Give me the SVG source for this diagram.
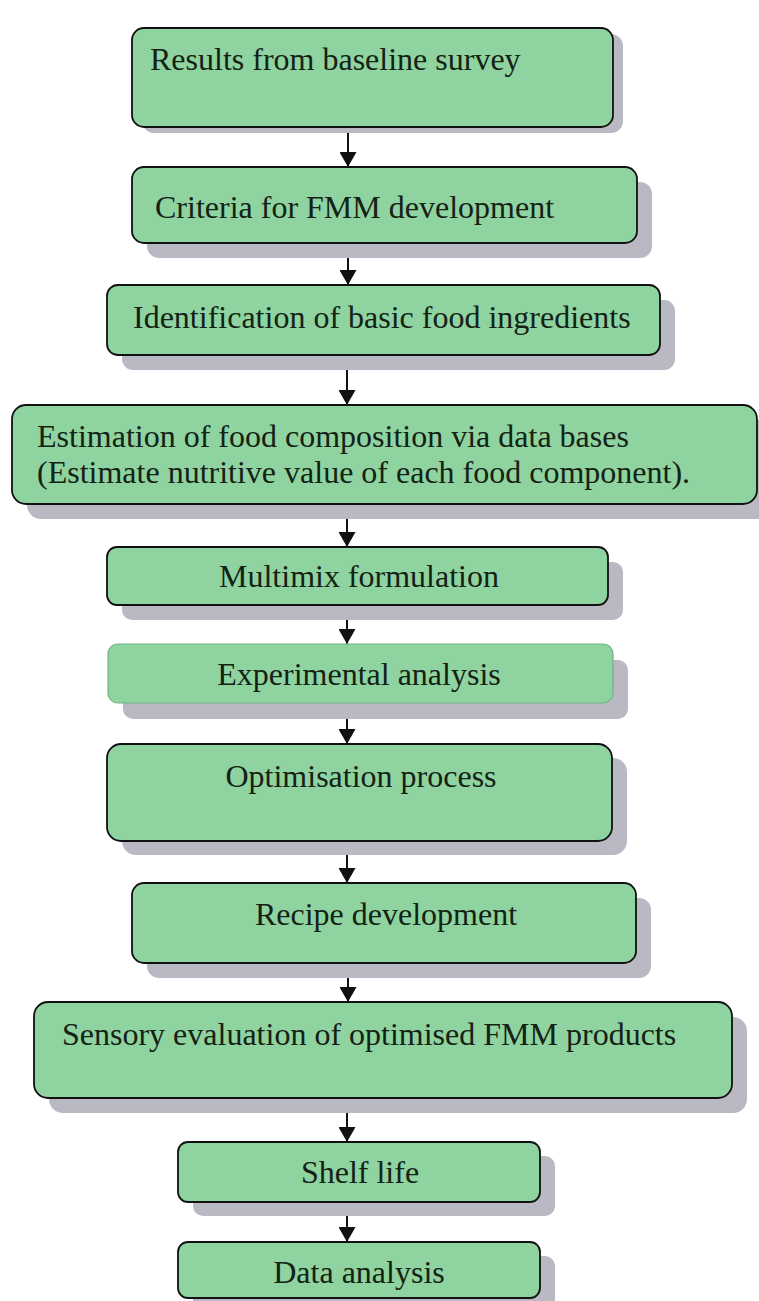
<svg xmlns="http://www.w3.org/2000/svg" width="759" height="1301" viewBox="0 0 759 1301">
  <defs>
    <marker id="arrow" markerWidth="15" markerHeight="17" refX="15" refY="8.5" orient="auto" markerUnits="userSpaceOnUse">
      <path d="M0,0 L15,8.5 L0,17 Z" fill="#111"/>
    </marker>
  </defs>
  <style>
    .shadow { fill: #bab9c3; }
    .box { fill: #8fd3a1; stroke: #111; stroke-width: 1.8; }
    .box-soft { fill: #8fd3a1; stroke: #6fb585; stroke-width: 1.2; }
    .label { font-family: "Liberation Serif", "Times New Roman", serif; font-size: 32px; fill: #142214; }
    .mid { text-anchor: middle; }
    .link { stroke: #111; stroke-width: 2; fill: none; marker-end: url(#arrow); }
  </style>
  <rect width="759" height="1301" fill="#ffffff"/>

  <g id="connectors">
    <line class="link" x1="348" y1="127" x2="348" y2="167"/>
    <line class="link" x1="348" y1="243" x2="348" y2="285"/>
    <line class="link" x1="347" y1="355" x2="347" y2="405"/>
    <line class="link" x1="347" y1="504" x2="347" y2="547"/>
    <line class="link" x1="347" y1="605" x2="347" y2="644"/>
    <line class="link" x1="347" y1="703" x2="347" y2="744"/>
    <line class="link" x1="347" y1="841" x2="347" y2="883"/>
    <line class="link" x1="348" y1="963" x2="348" y2="1002"/>
    <line class="link" x1="347" y1="1098" x2="347" y2="1142"/>
    <line class="link" x1="347" y1="1202" x2="347" y2="1242"/>
  </g>

  <g id="n1">
    <rect class="shadow" x="142" y="34" width="481" height="99" rx="12"/>
    <rect class="box" x="132" y="28" width="481" height="99" rx="12"/>
    <text class="label" x="150" y="70">Results from baseline survey</text>
  </g>
  <g id="n2">
    <rect class="shadow" x="147" y="182" width="505" height="76" rx="12"/>
    <rect class="box" x="132" y="167" width="505" height="76" rx="12"/>
    <text class="label" x="155" y="218">Criteria for FMM development</text>
  </g>
  <g id="n3">
    <rect class="shadow" x="122" y="300" width="553" height="70" rx="11"/>
    <rect class="box" x="107" y="285" width="553" height="70" rx="11"/>
    <text class="label" x="133" y="328">Identification of basic food ingredients</text>
  </g>
  <g id="n4">
    <rect class="shadow" x="27" y="420" width="745" height="99" rx="14"/>
    <rect class="box" x="12" y="405" width="745" height="99" rx="14"/>
    <text class="label" x="37" y="447">Estimation of food composition via data bases</text>
    <text class="label" x="37" y="483">(Estimate nutritive value of each food component).</text>
  </g>
  <g id="n5">
    <rect class="shadow" x="122" y="562" width="501" height="58" rx="10"/>
    <rect class="box" x="107" y="547" width="501" height="58" rx="10"/>
    <text class="label mid" x="359" y="587">Multimix formulation</text>
  </g>
  <g id="n6">
    <rect class="shadow" x="123" y="660" width="505" height="59" rx="10"/>
    <rect class="box-soft" x="108" y="644" width="505" height="59" rx="10"/>
    <text class="label mid" x="359" y="685">Experimental analysis</text>
  </g>
  <g id="n7">
    <rect class="shadow" x="122" y="758" width="505" height="97" rx="14"/>
    <rect class="box" x="107" y="744" width="505" height="97" rx="14"/>
    <text class="label mid" x="361" y="787">Optimisation process</text>
  </g>
  <g id="n8">
    <rect class="shadow" x="147" y="898" width="504" height="80" rx="12"/>
    <rect class="box" x="132" y="883" width="504" height="80" rx="12"/>
    <text class="label mid" x="386" y="925">Recipe development</text>
  </g>
  <g id="n9">
    <rect class="shadow" x="49" y="1017" width="698" height="96" rx="14"/>
    <rect class="box" x="34" y="1002" width="698" height="96" rx="14"/>
    <text class="label" x="62" y="1045">Sensory evaluation of optimised FMM products</text>
  </g>
  <g id="n10">
    <rect class="shadow" x="193" y="1156" width="362" height="60" rx="10"/>
    <rect class="box" x="178" y="1142" width="362" height="60" rx="10"/>
    <text class="label mid" x="360" y="1183">Shelf life</text>
  </g>
  <g id="n11">
    <rect class="shadow" x="193" y="1256" width="362" height="56" rx="10"/>
    <rect class="box" x="178" y="1242" width="362" height="56" rx="10"/>
    <text class="label mid" x="359" y="1283">Data analysis</text>
  </g>
</svg>
